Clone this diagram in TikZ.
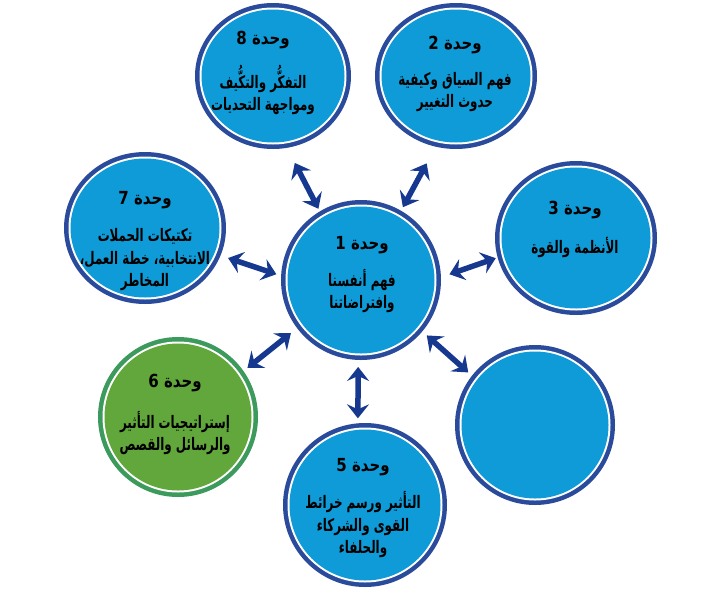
\documentclass[tikz,border=0pt]{standalone}
\usepackage{fontspec}
\newfontfamily\arabicfont[Script=Arabic]{DejaVu Sans}
\TeXXeTstate=1
\usetikzlibrary{arrows.meta,shapes.geometric}
\definecolor{unitblue}{HTML}{0F9BD7}
\definecolor{ringblue}{HTML}{2A4B9B}
\definecolor{unitgreen}{HTML}{62A73B}
\definecolor{ringgreen}{HTML}{3B9A5C}
\definecolor{arrowblue}{HTML}{16388F}
\newcommand\rtlline[1]{\scalebox{0.95}[1.38]{\beginR #1\endR}}
\newcommand\rtltitle[1]{\scalebox{1}[1.2]{\beginR #1\endR}}
\begin{document}
\begin{tikzpicture}[x=1pt,y=-1pt,
  titletext/.style={font=\arabicfont\bfseries\fontsize{15}{17}\selectfont, inner sep=0pt},
  bodytext/.style={font={\arabicfont\bfseries\fontsize{12.5}{22.5}\selectfont\lineskiplimit=-50pt}, align=center, inner sep=0pt},
  link/.style={draw=arrowblue, line width=5.5pt,
    arrows={Stealth[length=14pt,width=22pt,inset=5pt]-Stealth[length=14pt,width=22pt,inset=5pt]}}
]
\useasboundingbox (0,0) rectangle (720,592);
\foreach \n/\x/\y/\rx/\ry/\rc/\fc in {
  c8/273/76/78/73/ringblue/unitblue,
  c2/456/76/81/73/ringblue/unitblue,
  c7/145/228/81/76/ringblue/unitblue,
  c3/576/238/81/77/ringblue/unitblue,
  c1/361/280/80/80/ringblue/unitblue,
  c6/178/417/80/80/ringgreen/unitgreen,
  c5/365/505/82/82/ringblue/unitblue,
  c4/535/425/80/80/ringblue/unitblue}{
  \node[ellipse, inner sep=0pt, outer sep=0pt, minimum width={2*\rx*1pt}, minimum height={2*\ry*1pt}, fill=\rc] (\n) at (\x,\y) {};
  \fill[white] (\n.center) ellipse[x radius=\rx-4.5, y radius=\ry-4.5];
  \fill[\fc] (\n.center) ellipse[x radius=\rx-6.5, y radius=\ry-6.5];
}
% titles and texts
\node[titletext] (t8) at (263,40) {\rtltitle{وحدة 8}};
\node[bodytext] (b8) at (263,90) {\rtlline{التفكُّر والتكُّيف}\\\rtlline{ومواجهة التحديات}};
\node[titletext] (t2) at (455,45) {\rtltitle{وحدة 2}};
\node[bodytext] (b2) at (455,92) {\rtlline{فهم السياق وكيفية}\\\rtlline{حدوث التغيير}};
\node[titletext] (t7) at (145,200) {\rtltitle{وحدة 7}};
\node[bodytext] (b7) at (145,260) {\rtlline{تكتيكات الحملات}\\\rtlline{الانتخابية، خطة العمل،}\\\rtlline{المخاطر}};
\node[titletext] (t3) at (575,210) {\rtltitle{وحدة 3}};
\node[bodytext] (b3) at (575,247) {\rtlline{الأنظمة والقوة}};
\node[titletext] (t1) at (362,245) {\rtltitle{وحدة 1}};
\node[bodytext] (b1) at (362,291) {\rtlline{فهم أنفسنا}\\\rtlline{وافتراضاتنا}};
\node[titletext] (t6) at (175,383) {\rtltitle{وحدة 6}};
\node[bodytext] (b6) at (175,433) {\rtlline{إستراتيجيات التأثير}\\\rtlline{والرسائل والقصص}};
\node[titletext] (t5) at (363,467) {\rtltitle{وحدة 5}};
\node[bodytext] (b5) at (363,525) {\rtlline{التأثير ورسم خرائط}\\\rtlline{القوى والشركاء}\\\rtlline{والحلفاء}};
% connectors
\draw[link, shorten <=3pt, shorten >=17pt] (c1.121) -- (c8.-79);
\draw[link, shorten <=4pt, shorten >=19pt] (c1.60) -- (c2.-106);
\draw[link, shorten <=5pt, shorten >=8pt] (c1.177) -- (c7.-20);
\draw[link, shorten <=9pt, shorten >=2pt] (c1.2) -- (c3.-166);
\draw[link, shorten <=8pt, shorten >=5pt] (c1.-143) -- (c6.35);
\draw[link, shorten <=7pt, shorten >=5pt] (c1.-92) -- (c5.95);
\draw[link, shorten <=6pt, shorten >=5pt] (c1.-40) -- (c4.142);
\end{tikzpicture}
\end{document}
